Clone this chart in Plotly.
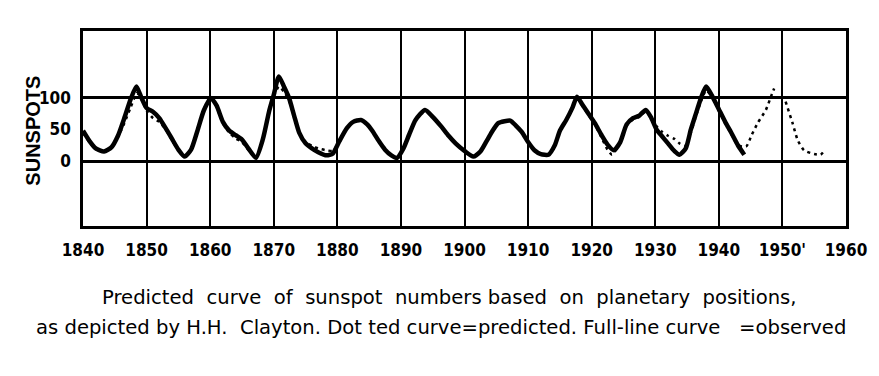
import plotly.graph_objects as go

# Observed (full-line) sunspot curve
obs_years = [1840.0, 1841.0, 1842.0, 1843.3, 1844.5, 1845.5, 1846.5, 1847.5, 1848.4, 1849.2,
             1850.0, 1851.0, 1852.0, 1853.0, 1854.0, 1855.0, 1856.0, 1857.0, 1858.0, 1859.0,
             1860.1, 1861.0, 1862.0, 1863.0, 1864.0, 1865.0, 1866.0, 1867.2, 1868.3, 1869.3,
             1870.0, 1870.8, 1871.6, 1872.4, 1873.2, 1874.0, 1875.0, 1876.0, 1877.0, 1878.3,
             1879.3, 1880.3, 1881.5, 1882.5, 1883.7, 1884.7, 1885.5, 1886.5, 1887.5, 1888.5,
             1889.4, 1890.4, 1891.3, 1892.3, 1893.8, 1895.0, 1896.4, 1897.5, 1898.6, 1900.0,
             1901.4, 1902.5, 1903.5, 1904.3, 1905.3, 1906.3, 1907.2, 1908.0, 1909.0, 1910.0,
             1911.0, 1912.0, 1913.2, 1914.2, 1915.0, 1916.0, 1917.0, 1917.7, 1918.5, 1919.5,
             1920.5, 1921.5, 1922.5, 1923.5, 1924.5, 1925.5, 1926.5, 1927.5, 1928.5, 1929.3,
             1930.2, 1931.0, 1932.0, 1933.0, 1933.8, 1934.8, 1935.6, 1936.3, 1937.2, 1938.0,
             1939.0, 1940.0, 1941.0, 1942.0, 1943.0, 1944.0]
obs_vals = [48, 32, 20, 15, 22, 40, 68, 98, 118, 100,
            84, 78, 68, 52, 35, 18, 7, 18, 48, 80,
            100, 88, 62, 48, 41, 34, 20, 5, 35, 80,
            105, 134, 118, 100, 72, 45, 28, 20, 14, 9,
            12, 31, 52, 62, 65, 58, 48, 32, 18, 9,
            5, 20, 42, 65, 81, 70, 54, 40, 28, 16,
            7, 15, 32, 46, 60, 63, 64, 57, 46, 30,
            17, 11, 10, 25, 48, 65, 85, 102, 90, 75,
            60, 42, 26, 17, 30, 58, 68, 72, 81, 70,
            50, 40, 28, 16, 10, 20, 50, 72, 100, 118,
            102, 82, 62, 44, 25, 10]

# Predicted (dotted) sunspot curve
pred_years = [1840.0, 1841.0, 1842.0, 1843.3, 1844.5, 1845.5, 1846.5, 1847.5, 1848.5, 1849.2,
              1850.0, 1851.0, 1852.0, 1853.0, 1854.0, 1855.0, 1856.0, 1857.0, 1858.0, 1859.0,
              1860.1, 1861.0, 1862.0, 1863.0, 1864.0, 1865.0, 1866.0, 1867.2, 1868.3, 1869.3,
              1870.0, 1870.8, 1871.6, 1872.4, 1873.2, 1874.0, 1875.0, 1876.0, 1877.0, 1878.3,
              1879.3, 1880.3, 1881.5, 1882.5, 1883.7, 1884.7, 1885.5, 1886.5, 1887.5, 1888.5,
              1889.4, 1890.4, 1891.3, 1892.3, 1893.8, 1895.0, 1896.4, 1897.5, 1898.6, 1900.0,
              1901.4, 1902.5, 1903.5, 1904.3, 1905.3, 1906.3, 1907.2, 1908.0, 1909.0, 1910.0,
              1911.0, 1912.0, 1913.2, 1914.2, 1915.0, 1916.0, 1917.0, 1917.7, 1918.5, 1919.5,
              1920.5, 1921.5, 1922.5, 1923.2, 1924.2, 1925.5, 1926.5, 1927.5, 1928.5, 1929.3,
              1930.2, 1931.0, 1932.0, 1933.0, 1933.8, 1934.8, 1935.6, 1936.3, 1937.2, 1938.0,
              1939.0, 1940.0, 1941.0, 1942.0, 1943.0, 1944.3, 1945.2, 1946.1, 1947.4, 1948.2,
              1948.7, None, 1950.5, 1951.6, 1952.4, 1953.4, 1955.0, 1956.0, 1956.5]
pred_vals = [45, 30, 19, 15, 22, 38, 60, 85, 108, 98,
             80, 68, 62, 50, 33, 17, 7, 20, 50, 82,
             100, 86, 60, 45, 36, 30, 18, 6, 35, 78,
             102, 118, 110, 96, 70, 45, 30, 24, 20, 17,
             16, 31, 52, 62, 65, 58, 48, 32, 18, 9,
             5, 20, 42, 65, 81, 70, 54, 40, 28, 16,
             7, 15, 32, 46, 60, 63, 64, 57, 46, 30,
             17, 11, 10, 25, 48, 65, 85, 100, 88, 73,
             58, 38, 18, 10, 25, 56, 66, 70, 78, 70,
             55, 47, 40, 35, 28, 24, 45, 68, 95, 112,
             100, 80, 60, 42, 25, 23, 42, 60, 81, 102,
             115, None, 94, 60, 33, 17, 11, 10, 15]

x_tickvals = [1840, 1850, 1860, 1870, 1880, 1890, 1900, 1910, 1920, 1930, 1940, 1950, 1960]
x_ticktext = ["1840", "1850", "1860", "1870", "1880", "1890", "1900", "1910", "1920", "1930",
              "1940", "1950'", "1960"]
y_tickvals = [0, 50, 100]
y_ticktext = ["0", "50", "100"]
y_grid = [0, 100]

caption_1 = "Predicted&nbsp; curve&nbsp; of&nbsp; sunspot&nbsp; numbers based&nbsp; on&nbsp; planetary&nbsp; positions,"
caption_2 = "as depicted by H.H.&nbsp; Clayton. Dot ted curve=predicted. Full-line curve&nbsp;&nbsp; =observed"

tick_font = dict(family="Liberation Sans Narrow, DejaVu Sans Condensed, Arial Narrow, sans-serif",
                 size=17, color="black", weight="bold")
cap_font = dict(family="DejaVu Sans, sans-serif", size=19.6, color="black")

fig = go.Figure()
fig.add_trace(go.Scatter(x=pred_years, y=pred_vals, mode="lines",
                         line=dict(color="black", width=2.5, dash="3px,4px", shape="spline", smoothing=0.6),
                         connectgaps=False, hoverinfo="skip", showlegend=False))
fig.add_trace(go.Scatter(x=obs_years, y=obs_vals, mode="lines",
                         line=dict(color="black", width=4.5, shape="spline", smoothing=0.6),
                         hoverinfo="skip", showlegend=False))

fig.update_layout(
    width=879, height=376,
    margin=dict(l=83, r=30, t=31, b=150),
    paper_bgcolor="white", plot_bgcolor="white",
    xaxis=dict(range=[1840, 1960], tickvals=x_tickvals, ticktext=x_ticktext,
               showgrid=True, gridcolor="black", gridwidth=2,
               showline=True, linecolor="black", linewidth=2.5, mirror=True,
               ticks="", ticklabelstandoff=7, tickfont=tick_font, zeroline=False),
    yaxis=dict(range=[-103, 206], tickvals=y_tickvals, ticktext=y_ticktext,
               showgrid=False,
               minor=dict(tickvals=y_grid, showgrid=True, gridcolor="black", gridwidth=2.5, ticks=""),
               showline=True, linecolor="black", linewidth=2.5, mirror=True,
               ticks="", ticklabelstandoff=6, tickfont=tick_font, zeroline=False),
    annotations=[
        dict(text="SUNSPOTS", textangle=-90, xref="paper", yref="paper",
             x=-0.0653, y=0.49, xanchor="center", yanchor="middle", showarrow=False,
             font=dict(family="Liberation Sans, Arial, sans-serif", size=20, color="black", weight="bold")),
        dict(text=caption_1, xref="paper", yref="paper", x=(451 - 83) / 766, y=-(297 - 226) / 195,
             xanchor="center", yanchor="middle", showarrow=False, font=cap_font),
        dict(text=caption_2, xref="paper", yref="paper", x=(442 - 83) / 766, y=-(327 - 226) / 195,
             xanchor="center", yanchor="middle", showarrow=False, font=cap_font),
    ],
)

fig.write_html("out.html")
